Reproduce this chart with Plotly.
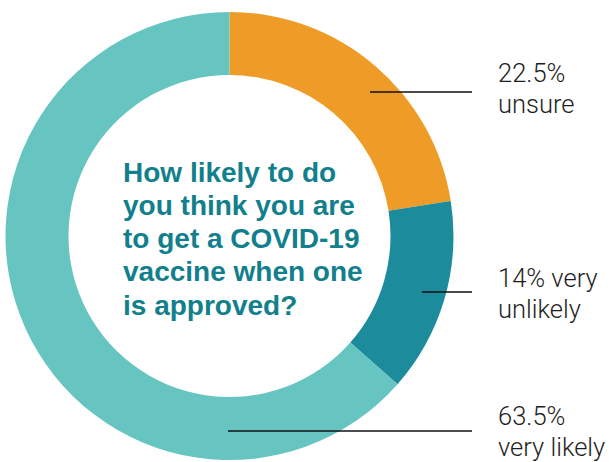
import plotly.graph_objects as go

# Survey answers, in drawing order (clockwise from 12 o'clock)
categories = ["unsure", "very unlikely", "very likely"]
values = [22.5, 14, 63.5]
colors = ["#EE9C27", "#1C8B9B", "#66C5C1"]

question_lines = [
    "How likely to do",
    "you think you are",
    "to get a COVID-19",
    "vaccine when one",
    "is approved?",
]

W, H = 615, 462
CX, CY, R = 229.5, 236.0, 224.0   # donut centre / outer radius (px)
HOLE = 161.0 / 224.0


def px_x(x):
    return x / W


def px_y(y):
    return 1 - y / H


def pct(v):
    return f"{v:g}%"


label_pairs = [
    (pct(values[0]), categories[0]),
    (pct(values[1]) + " very", "unlikely"),
    (pct(values[2]), "very likely"),
]

fig = go.Figure(
    go.Pie(
        labels=categories,
        values=values,
        sort=False,
        direction="clockwise",
        rotation=0,
        hole=HOLE,
        marker=dict(colors=colors, line=dict(width=0)),
        textinfo="none",
        hoverinfo="label+value",
        showlegend=False,
        domain=dict(
            x=[px_x(CX - R), px_x(CX + R)],
            y=[px_y(CY + R), px_y(CY - R)],
        ),
    )
)

# Question text in the hole
q_font = dict(family="Liberation Sans, Arial, sans-serif", size=28, color="#11808C")
annotations = []
for i, line in enumerate(question_lines):
    baseline = 182 + i * 33.3
    annotations.append(
        dict(
            text=f"<b>{line}</b>",
            x=px_x(121), y=px_y(baseline - 10),
            xref="paper", yref="paper",
            xanchor="left", yanchor="middle",
            showarrow=False, font=q_font,
        )
    )

# Callout labels and leader lines
lab_font = dict(family="Roboto, Liberation Sans, sans-serif", size=25.5, color="#1E1E1E", weight=300)
first_baselines = [82, 287, 425]
line_starts = [370, 422, 228]
line_ys = [92, 292, 431]
shapes = []
for (l1, l2), b, xs, ly in zip(label_pairs, first_baselines, line_starts, line_ys):
    for j, t in enumerate((l1, l2)):
        annotations.append(
            dict(
                text=t,
                x=px_x(496), y=px_y(b + j * 31 - 9),
                xref="paper", yref="paper",
                xanchor="left", yanchor="middle",
                showarrow=False, font=lab_font,
            )
        )
    shapes.append(
        dict(
            type="line", xref="paper", yref="paper",
            x0=px_x(xs), x1=px_x(472), y0=px_y(ly), y1=px_y(ly),
            line=dict(color="#111111", width=1.6),
        )
    )

fig.update_layout(
    width=W, height=H,
    margin=dict(l=0, r=0, t=0, b=0),
    paper_bgcolor="white",
    plot_bgcolor="white",
    annotations=annotations,
    shapes=shapes,
)

fig.write_html("out.html")
